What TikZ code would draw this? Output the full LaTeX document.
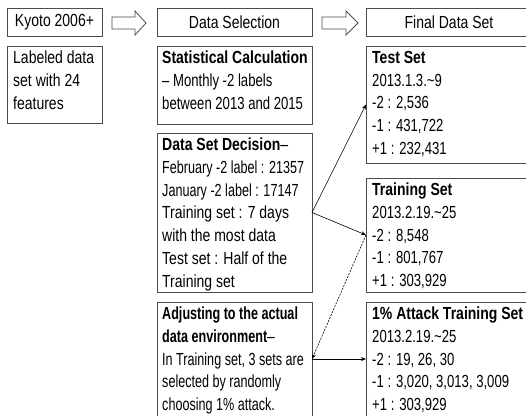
\documentclass[tikz,border=0pt]{standalone}
\usepackage{fontspec}
\setmainfont{Liberation Sans}[FakeStretch=0.80]
\newfontfamily\condf{Liberation Sans}[FakeStretch=0.72]
\newfontfamily\midf{Liberation Sans}[FakeStretch=0.75]
\usetikzlibrary{arrows.meta,calc}
\begin{document}
\begin{tikzpicture}[x=1pt,y=-1pt,
  box/.style={draw=black!70, line width=0.8pt, outer sep=0pt, inner sep=0pt, anchor=north west},
  txt/.style={anchor=north west, inner sep=0pt, align=left, font=\fontsize{17.5}{22.7}\selectfont},
  head/.style={font=\fontsize{17.5}{20}\selectfont},
  hollow/.style={draw=black!70, line width=0.8pt, fill=white, line join=miter},
  con/.style={draw=black, line width=0.6pt, -{Stealth[length=5pt,width=4pt]}},
  dcon/.style={con, dash pattern=on 2pt off 1.2pt}]
\useasboundingbox (0,0) rectangle (526,415);
\clip (0,0) rectangle (526,415);
% header row
\node[box, minimum width=95pt, minimum height=28pt, head] (kyoto) at (7,8) {Kyoto 2006+};
\node[box, minimum width=155pt, minimum height=28pt, head] (sel) at (157,8) {Data Selection};
\node[box, minimum width=166pt, minimum height=28pt, head] (fin) at (366,8) {Final Data Set};
% hollow arrows
\coordinate (h1) at (112,23);
\coordinate (h2) at (322,23);
\draw[hollow] (h1) ++(0,-6) -- ++(23,0) -- ++(0,-6) -- ++(11,12) -- ++(-11,12) -- ++(0,-6) -- ++(-23,0) -- cycle;
\draw[hollow] (h2) ++(0,-6) -- ++(24,0) -- ++(0,-6) -- ++(12,12) -- ++(-12,12) -- ++(0,-6) -- ++(-24,0) -- cycle;
% left column
\node[box, minimum width=95pt, minimum height=77pt] (lab) at (7,46) {};
\node[txt] (labT) at ($(lab.north west)+(6,5)$) {Labeled data\\set with 24\\features};
% middle column
\node[box, minimum width=155pt, minimum height=78pt] (stat) at (157,46) {};
\node[txt] (statT) at ($(stat.north west)+(5,5)$) {\textbf{Statistical Calculation}\\{\midf – Monthly -2 labels}\\{\midf between 2013 and 2015}};
\node[box, minimum width=155pt, minimum height=159pt] (dec) at (157,133) {};
\node[txt] (decT) at ($(dec.north west)+(5,5)$) {\textbf{Data Set Decision}–\\{\condf February -2 label : 21357}\\{\condf January -2 label : 17147}\\Training set : 7 days\\with the most data\\Test set : Half of the\\Training set};
\node[box, minimum width=155pt, minimum height=114pt] (adj) at (157,302) {};
\node[txt] (adjT) at ($(adj.north west)+(5,5)$) {{\condf\bfseries Adjusting to the actual}\\{\condf\bfseries data environment}–\\{\condf In Training set, 3 sets are}\\{\condf selected by randomly}\\{\condf choosing 1\% attack.}};
% right column
\node[box, minimum width=166pt, minimum height=117pt] (test) at (366,46) {};
\node[txt] (testT) at ($(test.north west)+(6,5)$) {\textbf{Test Set}\\{\midf 2013.1.3.\textasciitilde9}\\{\midf -2 : 2,536}\\{\midf -1 : 431,722}\\{\midf +1 : 232,431}};
\node[box, minimum width=166pt, minimum height=114pt] (train) at (366,178) {};
\node[txt] (trainT) at ($(train.north west)+(6,5)$) {\textbf{Training Set}\\{\midf 2013.2.19.\textasciitilde25}\\{\midf -2 : 8,548}\\{\midf -1 : 801,767}\\{\midf +1 : 303,929}};
\node[box, minimum width=166pt, minimum height=114pt] (att) at (366,302) {};
\node[txt] (attT) at ($(att.north west)+(6,5)$) {\textbf{1\% Attack Training Set}\\{\midf 2013.2.19.\textasciitilde25}\\{\midf -2 : 19, 26, 30}\\{\midf -1 : 3,020, 3,013, 3,009}\\{\midf +1 : 303,929}};
% connectors
\draw[con] (dec.east) -- (test.west);
\draw[con] (dec.east) -- (train.west);
\draw[dcon] (train.west) -- (adj.east);
\draw[con] (adj.east) -- (att.west);
\end{tikzpicture}
\end{document}
